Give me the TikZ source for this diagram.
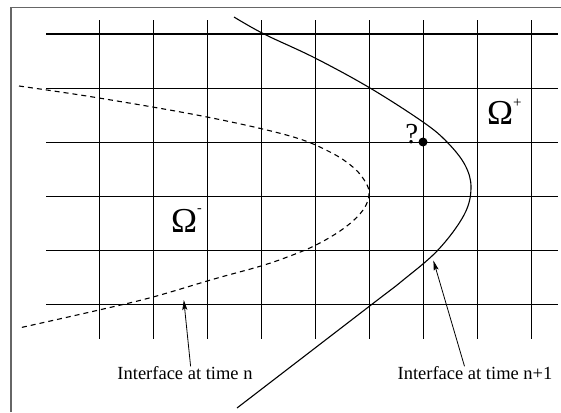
\documentclass[tikz,border=0pt]{standalone}
\usepackage{fontspec}
\setmainfont{Liberation Serif}
\usetikzlibrary{arrows.meta}

\begin{document}
\begin{tikzpicture}[
        x=1pt, y=-1pt,
        every node/.style={align=center, inner sep=0pt},
        boxframe/.style={draw=black!60, line width=1.5pt},
        gridline/.style={line width=0.9pt},
        topline/.style={line width=1.7pt},
        newfront/.style={line width=1.1pt},
        oldfront/.style={line width=1.1pt, dash pattern=on 5pt off 4pt},
        notetext/.style={font=\fontsize{18.5}{20}\selectfont},
        region/.style={font=\fontsize{35}{36}\selectfont},
        gridpt/.style={circle, fill, minimum size=9pt},
        pointer/.style={line width=0.8pt, -{Stealth[length=10pt, width=5pt, inset=2pt]}}
    ]

    \useasboundingbox (0,0) rectangle (561,412);

    % Frame
    \draw[boxframe] (11,412) -- (11,7.5) -- (561,7.5);

    % Grid
    \foreach \i in {0,...,8}
        \draw[gridline] (99+54*\i,20.5) -- (99+54*\i,338.5);
    \foreach \j in {1,...,5}
        \draw[gridline] (46,34+54*\j) -- (558,34+54*\j);
    \draw[topline] (46,34) -- (558,34);

    % Interface at time n+1
    \draw[newfront] plot[smooth, tension=0.6] coordinates {
        (234,17) (264,34) (315,58) (370,88) (423,122) (447,142)
        (465,165) (471,188) (464,215) (438,250) (402,281) (371,305) (237,408)};

    % Interface at time n
    \draw[oldfront] plot[smooth, tension=0.6] coordinates {
        (19,86) (99,98) (207,117) (290,136) (330,152) (354,168)
        (366,183) (369,194) (365,207) (354,220) (337,233) (314,246)
        (290,256) (261,266) (214,279) (153,297) (99,310) (19,328)};

    % Regions and grid point
    \node[region, anchor=base west] (omplus) at (487,124)
        {Ω\raisebox{17pt}{\fontsize{15}{15}\selectfont +}};
    \node[region, anchor=base west] (omminus) at (171,232)
        {Ω\raisebox{20pt}{\fontsize{14}{14}\selectfont -}};
    \node[gridpt] (pt) at (423,142) {};
    \node[font=\fontsize{29}{30}\selectfont, anchor=base east] (qmark) at (418.5,143) {?};

    % Labels
    \node[notetext, anchor=base] (lbln) at (185,379.5) {Interface at time n};
    \node[notetext, anchor=base] (lblnp) at (475,379.5) {Interface at time n+1};
    \coordinate (tipn) at (183.8,300);
    \coordinate (tipnp) at (433.4,260.5);

    \draw[pointer] ([xshift=5.6pt]lbln.north) -- (tipn);
    \draw[pointer] ([xshift=-10.5pt]lblnp.north) -- (tipnp);

\end{tikzpicture}
\end{document}
